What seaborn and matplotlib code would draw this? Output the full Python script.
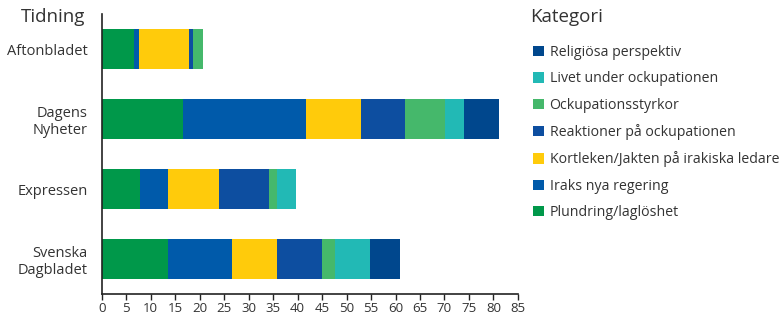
import matplotlib
matplotlib.use("Agg")
import matplotlib.pyplot as plt
import seaborn as sns
import pandas as pd
import numpy as np
from matplotlib.patches import Patch

# Data
tidningar = ["Aftonbladet", "Dagens\nNyheter", "Expressen", "Svenska\nDagbladet"]
kategorier = [
    "Plundring/laglöshet",
    "Iraks nya regering",
    "Kortleken/Jakten på irakiska ledare",
    "Reaktioner på ockupationen",
    "Ockupationsstyrkor",
    "Livet under ockupationen",
    "Religiösa perspektiv",
]
plundring = [6.6, 16.6, 7.9, 13.5]
regering = [1.0, 25.2, 5.7, 13.2]
kortleken = [10.3, 11.1, 10.3, 9.1]
reaktioner = [0.8, 9.0, 10.2, 9.1]
styrkor = [2.0, 8.3, 1.7, 2.7]
livet = [0.0, 3.8, 3.8, 7.2]
religion = [0.0, 7.2, 0.0, 6.1]

farger = ["#00984A", "#005AAA", "#FFCB0B", "#0D4EA0", "#45B86B", "#22B9B5", "#00478D"]

serier = [plundring, regering, kortleken, reaktioner, styrkor, livet, religion]
df = pd.DataFrame(dict(zip(kategorier, serier)), index=tidningar)
cum = df.cumsum(axis=1)

plt.rcParams["font.family"] = ["Open Sans", "DejaVu Sans"]
textfarg = "#333333"

fig = plt.figure(figsize=(7.81, 3.18), dpi=100)
ax = fig.add_axes([0.1302, 0.0755, 0.533, 0.88])

# stacked bars: draw cumulative totals from the last category backwards
for kat, farg in reversed(list(zip(kategorier, farger))):
    sns.barplot(x=cum[kat].values, y=tidningar, orient="h", color=farg,
                width=0.57, saturation=1, ax=ax, linewidth=0)

ax.set_xlim(0, 85)
ax.set_ylim(3.5, -0.5)
ax.set_xticks(np.arange(0, 86, 5))
ax.set_xlabel("")
ax.set_ylabel("")
for side in ["top", "right"]:
    ax.spines[side].set_visible(False)
ax.spines["left"].set_color("#222222")
ax.spines["bottom"].set_color("#222222")
ax.spines["left"].set_linewidth(1.2)
ax.spines["bottom"].set_linewidth(1.2)
ax.tick_params(axis="x", length=4, width=1, colors="#222222", labelsize=9.5,
               labelcolor=textfarg, pad=2)
ax.tick_params(axis="y", length=0, labelsize=10.5, labelcolor=textfarg, pad=10)

fig.text(0.109, 0.945, "Tidning", ha="right", va="center", fontsize=13.5, color=textfarg)
fig.text(0.679, 0.945, "Kategori", ha="left", va="center", fontsize=13.5, color=textfarg)

handles = [Patch(facecolor=f, edgecolor="none") for f in farger]
leg = fig.legend(handles[::-1], kategorier[::-1], loc="upper left",
                 bbox_to_anchor=(0.672, 0.885), frameon=False, fontsize=10.2,
                 handlelength=0.75, handleheight=0.75, handletextpad=0.4,
                 labelspacing=0.8, borderaxespad=0.2)
for t in leg.get_texts():
    t.set_color(textfarg)

fig.savefig("out.png", dpi=100)
